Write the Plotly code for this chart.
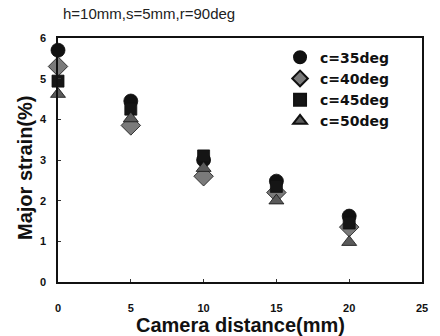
import plotly.graph_objects as go

x_vals = [0, 5, 10, 15, 20]
c35 = [5.70, 4.45, 3.00, 2.48, 1.62]
c40 = [5.30, 3.85, 2.60, 2.20, 1.35]
c45 = [4.94, 4.25, 3.10, 2.35, 1.45]
c50 = [4.62, 4.02, 2.80, 2.00, 0.98]
series_names = ["c=35deg", "c=40deg", "c=45deg", "c=50deg"]
x_ticks = [0, 5, 10, 15, 20, 25]
y_ticks = [0, 1, 2, 3, 4, 5, 6]

styles = [
    dict(symbol="circle", size=14, color="#111111"),
    dict(symbol="diamond", size=15, color="#7a7a7a"),
    dict(symbol="square", size=12, color="#151515"),
    dict(symbol="triangle-up", size=13, color="#5a5a5a"),
]

fig = go.Figure()
for name, ys, st in zip(series_names, [c35, c40, c45, c50], styles):
    fig.add_trace(go.Scatter(
        x=x_vals, y=ys, mode="markers", name=f"<b>{name}</b>",
        marker=dict(symbol=st["symbol"], size=st["size"], color=st["color"],
                    line=dict(color="#111111", width=0.8)),
        cliponaxis=False,
    ))

axis_font = dict(family="Liberation Sans, Arial", size=11, color="#111111")
title_font = dict(family="Liberation Sans, Arial", size=20, color="#111111")

fig.update_layout(
    width=440, height=336,
    margin=dict(l=58, r=14, t=38, b=54),
    paper_bgcolor="white", plot_bgcolor="white",
    showlegend=True,
    legend=dict(x=0.61, y=0.985, xanchor="left", yanchor="top",
                font=dict(family="DejaVu Sans", size=14, color="#111111"),
                bgcolor="rgba(0,0,0,0)", itemsizing="constant", tracegroupgap=0,
                itemwidth=30),
)
fig.add_annotation(text="h=10mm,s=5mm,r=90deg", xref="paper", yref="paper",
                   x=0.0, y=1.0, xanchor="left", yanchor="bottom", yshift=14, xshift=3,
                   showarrow=False,
                   font=dict(family="Liberation Sans, Arial", size=15, color="#222222"))
fig.add_annotation(text="<b>Camera distance(mm)</b>", xref="paper", yref="paper",
                   x=0.5, y=0.0, xanchor="center", yanchor="middle", yshift=-43,
                   showarrow=False, font=title_font)
fig.add_annotation(text="<b>Major strain(%)</b>", xref="paper", yref="paper",
                   x=0.0, y=0.5, xanchor="center", yanchor="middle", xshift=-33, yshift=-8,
                   textangle=-90, showarrow=False, font=title_font)

fig.update_xaxes(
    range=[0, 25], tickvals=x_ticks, ticktext=[f"<b>{t}</b>" for t in x_ticks],
    showgrid=False, zeroline=False, showline=True, linecolor="#111111", linewidth=1.5,
    mirror=True, ticks="inside", ticklen=3, tickcolor="#333333",
    tickfont=axis_font, ticklabelstandoff=15,
)
fig.update_yaxes(
    range=[0, 6], tickvals=y_ticks, ticktext=[f"<b>{t}</b>" for t in y_ticks],
    showgrid=False, zeroline=False, showline=True, linecolor="#111111", linewidth=1.5,
    mirror=True, ticks="inside", ticklen=3, tickcolor="#333333",
    tickfont=axis_font, ticklabelstandoff=8,
)

fig.write_html("out.html", config={"displayModeBar": False},
               post_script="document.body.style.margin='0';document.body.style.padding='0';")
